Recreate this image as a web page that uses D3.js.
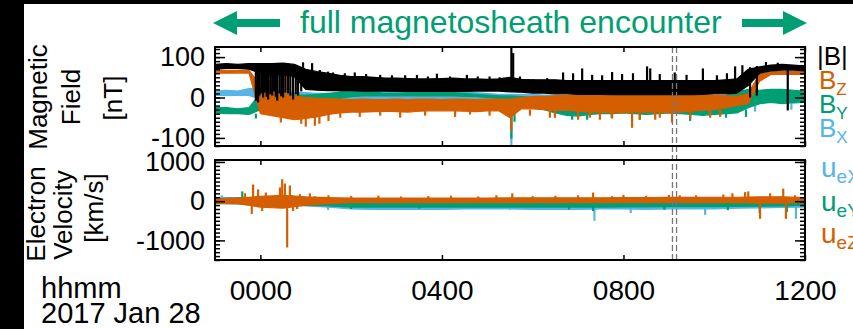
<!DOCTYPE html>
<html>
<head>
<meta charset="utf-8">
<script src="https://cdn.jsdelivr.net/npm/d3@7"></script>
<style>
  body { margin: 0; background: #fff; }
  svg { display: block; }
  text { font-family: "Liberation Sans", Arial, Helvetica, sans-serif; }
</style>
</head>
<body>
<div id="chart"></div>
<script>
// ---- data (hours from 2017-01-28 00:00 UT) ----
// magnetic field, 15-min bins starting 23:00 on Jan 27, [nT]; hi/lo = envelope of the trace
const bStart = -1, bStep = 0.25;
const bMagHi = [82,84,82,84, 84,84,85,82, 70,64,60,55,52,52,50,48,48,47,46,46,47,48,46,46,45,46, 50,
  45,44,44,44,42,42,42,42,42,42,42,42,42,42,42,42,42,42,44,46, 70,76,80,82,80,78];
const bMagLo = [70,72,72,70, 60,58,56,52, 20,18,17,17,17,16,16,16,15,15,15,15,15,15,15,16,16,16, 14,
  13,11,11,9,9,8,8,8,7,7,7,7,7,7,7,7,8,9,9,11, 30,60,66,68,68,66];
const bzHi = [67,67,67,67, 30,15,8,4, 0,-2,-3,-4,-5,-4,-5,-5,-4,-5,-4,-4,-5,-4,-4,-5,-4,-4, -4,
  0,2,3,4,5,6,6,7,7,7,7,7,7,7,7,6,6,5,4,3, 10,58,64,64,64,64];
const bzLo = [60,60,61,60, -40,-45,-50,-55, -52,-48,-42,-38,-36,-36,-35,-34,-35,-36,-34,-33,-33,-33,-34,-35,-33,-33, -50,
  -28,-28,-30,-32,-32,-34,-36,-36,-38,-38,-36,-36,-36,-38,-36,-34,-32,-30,-26,-20, -15,40,57,57,57,57];
const byHi = [-25,-25,-28,-25, 10,8,8,6, 6,8,10,14,16,16,14,10,10,12,14,16,14,12,10,8,6,4, 4,
  2,0,-2,-4,-5,-5,-5,-5,-5,-5,-5,-5,-5,-5,-5,-5,-4,-2,5,14, 20,18,20,20,18,15];
const byLo = [-38,-40,-40,-42, -30,-25,-20,-15, -10,-8,-5,-2,2,4,4,4,4,4,4,4,4,4,3,2,0,-2, -25,
  -10,-20,-30,-38,-44,-46,-42,-40,-40,-38,-40,-42,-40,-38,-40,-42,-44,-42,-40,-38, -25,-15,-12,-15,-12,-10];
const bxHi = [15,18,16,22, 24,20,15,12, 12,10,10,10,10,12,14,15,15,15,14,12,12,14,14,12,10,8, 8,
  8,8,6,6,5,5,5,5,5,5,5,5,5,5,5,5,5,5,5,5, 5,2,4,5,5,6];
const bxLo = [5,6,5,5, -5,-8,-10,-10, -10,-10,-10,-8,-8,-6,-6,-6,-6,-6,-6,-6,-6,-6,-6,-6,-8,-8, -20,
  -8,-10,-10,-12,-12,-14,-15,-15,-15,-15,-15,-15,-15,-15,-15,-15,-18,-18,-20,-20, -18,-15,-10,-12,-14,-12];

// short excursions: [hour, from, to]
const bMagSpikes = [
  [-0.10,84,-8],[-0.05,84,-12],[-0.02,84,5],[0.02,84,10],[0.06,80,0],[0.10,82,12],[0.14,82,2],[0.17,84,-5],
  [0.22,82,8],[0.26,80,5],[0.30,82,15],[0.34,82,2],[0.37,82,-8],[0.42,82,10],[0.46,82,3],[0.50,80,0],
  [0.55,80,12],[0.61,78,10],[0.66,80,5],[0.72,75,-5],[0.78,76,8],[0.83,72,5],[0.90,72,15],
  [0.94,40,87],[1.14,40,85],[1.31,40,68],[1.49,30,64],[1.60,30,62],[1.86,30,60],[2.08,30,62],[2.33,30,58],
  [2.64,30,56],[2.90,30,55],[3.19,30,55],[3.45,30,56],[3.69,30,52],[3.89,30,59],[4.18,30,52],[4.55,30,56],
  [4.79,30,52],[5.05,30,52],[5.27,30,50],[5.53,15,135],[5.57,20,110],[5.72,30,52],[6.01,30,45],[6.32,30,48],
  [6.67,30,62],[6.89,30,60],[7.09,30,72],[7.31,30,56],[7.53,30,55],[7.75,30,63],[7.97,30,58],[8.21,30,60],
  [8.52,30,77],[8.59,30,72],[8.80,30,58],[9.13,30,62],[9.39,30,56],[9.75,30,72],[10.06,30,55],[10.28,30,60],
  [10.46,30,77],[10.62,30,80],[10.79,75,0],[10.94,78,5],[11.14,70,88],[11.40,70,86],[11.62,80,-32]];
const bzSpikes = [[0.04,0,65],[0.21,0,62],[0.56,-10,55],[0.45,-40,-62],[0.9,-40,-65],[1.0,-40,-72],[1.2,-40,-70],
  [1.3,-40,-65],[1.5,-30,-58],[1.76,-30,-50],[2.19,-30,-48],[2.64,-30,-45],[3.08,-30,-50],[3.63,-30,-45],
  [4.29,-30,-48],[4.62,-30,-42],[5.05,-30,-45],[5.53,-20,-82],[5.94,-30,-45],[6.38,-30,-50],[6.49,-30,-50],
  [7.0,-30,-55],[7.26,-30,-50],[7.48,-30,-55],[7.75,-30,-52],[8.19,-30,-75],[8.36,-30,-55],[8.70,-30,-55],
  [8.80,-30,-50],[9.07,-30,-62],[9.47,-30,-52],[9.91,-30,-50],[10.13,-30,-48]];
const bySpikes = [[-0.1,-40,-52],[5.53,-10,-102],[5.6,-10,-60],[6.87,-30,-55],[7.2,-30,-55],[7.74,-30,-50],
  [8.36,-30,-55],[9.47,-30,-58],[10.26,-30,-50],[10.7,-30,-48]];
const bxSpikes = [[5.53,-10,-122],[5.40,-10,-40],[7.5,-10,-40],[10.9,-10,-35],[11.7,-10,-30]];

// electron velocity, 30-min bins, [km/s]
const uStart = -1, uStep = 0.5;
const uzHi = [60,80,120,150,110, 90,80,80,80,80, 80,80,80,85,85, 85,85,85,90,90, 95,95,95,100,110, 110,90];
const uzLo = [-50,-60,-150,-180,-100, -60,-40,-40,-40,-40, -40,-40,-40,-40,-40, -40,-40,-40,-40,-40, -35,-35,-35,-35,-50, -50,-30];
const uyHi = [60,80,100,60,40, 0,-30,-35,-35,-35, -35,-35,-35,-35,-35, -35,-35,-35,-35,-35, -35,-35,-30,-30,-20, -20,-20];
const uyLo = [-60,-70,-120,-120,-100, -120,-150,-150,-150,-150, -150,-150,-150,-150,-150, -150,-150,-150,-145,-145, -140,-140,-140,-130,-130, -120,-110];
const uxHi = [100,90,80,60,40, 0,-60,-70,-70,-70, -70,-70,-70,-70,-70, -70,-70,-70,-70,-70, -70,-70,-60,-60,-50, -40,-40];
const uxLo = [-40,-50,-80,-100,-120, -150,-200,-210,-210,-210, -210,-200,-200,-200,-210, -210,-210,-200,-200,-210, -200,-200,-200,-180,-170, -160,-150];

const uzSpikes = [[-0.34,0,200],[-0.19,0,-325],[-0.16,0,425],[-0.05,0,300],[0.04,0,-250],[0.12,0,220],[0.32,0,150],
  [0.43,0,350],[0.48,0,560],[0.54,0,450],[0.59,0,-1180],[0.65,0,400],[0.72,0,-250],[0.81,0,-200],[0.87,0,180],
  [1.09,0,200],[1.5,0,150],[2.0,0,130],[2.6,0,140],[3.1,0,120],[3.7,0,130],[4.2,0,140],[4.8,0,120],[5.2,0,150],
  [5.55,0,200],[6.0,0,130],[6.5,0,140],[7.0,0,150],[7.33,0,220],[7.75,0,130],[8.0,0,160],[8.5,0,140],[9.0,0,160],
  [9.24,0,150],[9.6,0,150],[10.2,0,170],[10.4,0,200],[10.68,0,230],[10.75,0,250],[11.01,0,-450],
  [11.23,0,200],[11.52,0,320],[11.58,0,-450],[11.78,0,150]];
const uySpikes = [[-0.4,0,250],[0.7,0,150],[1.2,0,120],[2.0,-100,-200],[3.5,-100,-190],[6.8,-100,-210],
  [7.33,-100,-250],[8.9,-100,-220],[10.3,-100,-230],[11.0,-100,-300],[11.6,-100,-280]];
const uxSpikes = [[-0.85,0,150],[1.49,-100,-220],[4.4,-100,-200],[5.5,-100,-220],[6.2,-100,-220],[7.36,-100,-500],
  [8.16,-100,-300],[9.8,-100,-350],[11.8,-100,-450]];

const dashTimes = [9.08, 9.17];
const xTicks = [0, 4, 8, 12];
const bTicks = [-100, 0, 100];
const uTicks = [-1000, 0, 1000];

const colors = { mag: '#000000', z: '#D55E00', y: '#009E73', x: '#56B4E9' };

// ---- layout ----
const width = 853, height = 329;
const left = 215, right = 805;
const p1 = { top: 47, bottom: 146 };
const p2 = { top: 160, bottom: 260 };

const hToDate = h => new Date(Date.UTC(2017, 0, 28) + h * 3600e3);

const svg = d3.select('#chart').append('svg')
    .attr('width', width)
    .attr('height', height);

// black edge of the original figure
svg.append('rect').attr('x', 0).attr('y', 0).attr('width', 24).attr('height', height).attr('fill', '#000');
svg.append('rect').attr('x', 0).attr('y', 0).attr('width', width).attr('height', 4).attr('fill', '#000');

const x = d3.scaleUtc()
    .domain([hToDate(-1), hToDate(12)])
    .range([left, right]);

const yB = d3.scaleLinear().domain([-120, 125]).range([p1.bottom, p1.top]);
const yU = d3.scaleLinear().domain([-1500, 1050]).range([p2.bottom, p2.top]);

const defs = svg.append('defs');
[['clip1', p1], ['clip2', p2]].forEach(([id, p]) => {
    defs.append('clipPath').attr('id', id)
        .append('rect').attr('x', left).attr('y', p.top)
        .attr('width', right - left).attr('height', p.bottom - p.top);
});

function band(g, y, hi, lo, start, step, color) {
    const rows = hi.map((v, i) => ({ t: hToDate(start + i * step), hi: v, lo: lo[i] }));
    const area = d3.area()
        .x(d => x(d.t))
        .y0(d => y(d.lo))
        .y1(d => y(d.hi));
    g.append('path')
        .datum(rows)
        .attr('d', area)
        .attr('fill', color)
        .attr('stroke', color)
        .attr('stroke-width', 1.2)
        .attr('stroke-linejoin', 'round');
}

function spikes(g, y, list, color) {
    g.append('g').selectAll('line')
        .data(list)
        .join('line')
        .attr('x1', d => x(hToDate(d[0])))
        .attr('x2', d => x(hToDate(d[0])))
        .attr('y1', d => y(d[1]))
        .attr('y2', d => y(d[2]))
        .attr('stroke', color)
        .attr('stroke-width', 2.2);
}

// Magnetic field panel
const g1 = svg.append('g').attr('clip-path', 'url(#clip1)');
band(g1, yB, bxHi, bxLo, bStart, bStep, colors.x);
spikes(g1, yB, bxSpikes, colors.x);
band(g1, yB, byHi, byLo, bStart, bStep, colors.y);
spikes(g1, yB, bySpikes, colors.y);
band(g1, yB, bzHi, bzLo, bStart, bStep, colors.z);
spikes(g1, yB, bzSpikes, colors.z);
band(g1, yB, bMagHi, bMagLo, bStart, bStep, colors.mag);
spikes(g1, yB, bMagSpikes, colors.mag);

// Electron velocity panel
const g2 = svg.append('g').attr('clip-path', 'url(#clip2)');
band(g2, yU, uxHi, uxLo, uStart, uStep, colors.x);
spikes(g2, yU, uxSpikes, colors.x);
band(g2, yU, uyHi, uyLo, uStart, uStep, colors.y);
spikes(g2, yU, uySpikes, colors.y);
band(g2, yU, uzHi, uzLo, uStart, uStep, colors.z);
spikes(g2, yU, uzSpikes, colors.z);

// event markers
svg.append('g').selectAll('line')
    .data(dashTimes)
    .join('line')
    .attr('x1', d => x(hToDate(d)))
    .attr('x2', d => x(hToDate(d)))
    .attr('y1', p1.top)
    .attr('y2', p2.bottom)
    .attr('stroke', '#777')
    .attr('stroke-width', 1.3)
    .attr('stroke-dasharray', '6,3');

// axes: ticks point inward on all four sides
function styleAxis(sel, fontSize) {
    sel.attr('font-size', fontSize)
        .attr('font-family', '"Liberation Sans", Arial, sans-serif')
        .attr('color', '#000');
    sel.select('.domain').remove();
    sel.selectAll('line').attr('stroke-width', 1.5);
}

function panelAxes(p, y, majors, minorStep, showXLabels) {
    const [d0, d1] = y.domain();
    const minors = d3.range(Math.ceil(d0 / minorStep) * minorStep, d1 + 1e-9, minorStep);
    const xt = xTicks.map(hToDate);

    svg.append('g').attr('transform', `translate(${left},0)`)
        .call(d3.axisLeft(y).tickValues(minors).tickSize(-5).tickFormat(''))
        .call(styleAxis, 27);
    svg.append('g').attr('transform', `translate(${left},0)`)
        .call(d3.axisLeft(y).tickValues(majors).tickSize(-10).tickPadding(10).tickFormat(d => String(d)))
        .call(styleAxis, 27);
    svg.append('g').attr('transform', `translate(${right},0)`)
        .call(d3.axisRight(y).tickValues(minors).tickSize(-5).tickFormat(''))
        .call(styleAxis, 27);
    svg.append('g').attr('transform', `translate(${right},0)`)
        .call(d3.axisRight(y).tickValues(majors).tickSize(-10).tickFormat(''))
        .call(styleAxis, 27);
    svg.append('g').attr('transform', `translate(0,${p.top})`)
        .call(d3.axisTop(x).tickValues(xt).tickSize(-5).tickFormat(''))
        .call(styleAxis, 27);
    svg.append('g').attr('transform', `translate(0,${p.bottom})`)
        .call(d3.axisBottom(x).tickValues(xt).tickSize(-5).tickPadding(20)
            .tickFormat(showXLabels ? d3.utcFormat('%H%M') : ''))
        .call(styleAxis, 28);

    svg.append('rect')
        .attr('x', left).attr('y', p.top)
        .attr('width', right - left).attr('height', p.bottom - p.top)
        .attr('fill', 'none').attr('stroke', '#000').attr('stroke-width', 2);
}

panelAxes(p1, yB, bTicks, 10, false);
panelAxes(p2, yU, uTicks, 100, true);

// y titles
function vtitle(text, xBase, yMid) {
    svg.append('text')
        .attr('transform', `translate(${xBase},${yMid}) rotate(-90)`)
        .attr('text-anchor', 'middle')
        .attr('font-size', 26)
        .text(text);
}
vtitle('Magnetic', 47, 97);
vtitle('Field', 80, 97);
vtitle('[nT]', 122, 98);
vtitle('Electron', 45, 214);
vtitle('Velocity', 72, 215);
vtitle('[km/s]', 103, 208);

// time label
svg.append('text').attr('x', 41).attr('y', 298).attr('font-size', 29).text('hhmm');
svg.append('text').attr('x', 41).attr('y', 323).attr('font-size', 29).text('2017 Jan 28');

// legends
function legendItem(main, sub, color, xPos, yBase, size, subSize) {
    const t = svg.append('text').attr('x', xPos).attr('y', yBase)
        .attr('font-size', size).attr('fill', color);
    t.append('tspan').text(main);
    if (sub) t.append('tspan').attr('font-size', subSize).attr('dy', 6).text(sub);
}
legendItem('|B|', '', colors.mag, 817, 65, 26, 17);
legendItem('B', 'Z', colors.z, 819, 89, 26, 17);
legendItem('B', 'Y', colors.y, 819, 113, 26, 17);
legendItem('B', 'X', colors.x, 819, 137, 26, 17);
legendItem('u', 'eX', colors.x, 821, 177, 28, 19);
legendItem('u', 'eY', colors.y, 821, 211, 28, 19);
legendItem('u', 'eZ', colors.z, 821, 243, 28, 19);

// encounter annotation
const green = '#009E73';
const arrowY = 23;
svg.append('path')
    .attr('d', `M213,${arrowY} L237,${arrowY - 12} L237,${arrowY - 4} L280,${arrowY - 4} L280,${arrowY + 4} L237,${arrowY + 4} L237,${arrowY + 12} Z`)
    .attr('fill', green);
svg.append('path')
    .attr('d', `M807,${arrowY} L783,${arrowY - 12} L783,${arrowY - 4} L742,${arrowY - 4} L742,${arrowY + 4} L783,${arrowY + 4} L783,${arrowY + 12} Z`)
    .attr('fill', green);
svg.append('text')
    .attr('x', 300).attr('y', 33)
    .attr('font-size', 32)
    .attr('fill', green)
    .text('full magnetosheath encounter');
</script>
</body>
</html>
